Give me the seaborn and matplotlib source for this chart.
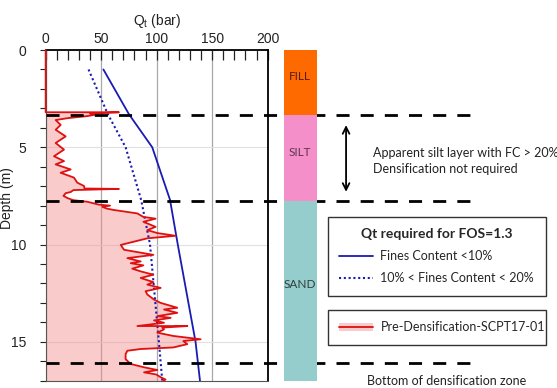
import matplotlib
matplotlib.use("Agg")
import matplotlib.pyplot as plt
from matplotlib.lines import Line2D
from matplotlib.patches import Patch
import seaborn as sns

# CPT trace (depth in m, Qt in bar)
cpt_depth = [0, 3.2, 3.2, 3.26, 3.32, 3.4, 3.5, 3.6, 3.85, 4.1, 4.44, 4.78, 5.12, 5.46, 5.71,
             5.88, 6.14, 6.31, 6.56, 6.82, 6.99, 7.12, 7.14, 7.2, 7.3, 7.36, 7.5, 7.62, 7.72,
             7.8, 7.95, 8.0, 8.06, 8.15, 8.22, 8.4, 8.58, 8.67, 8.83, 9.09, 9.26, 9.41, 9.55,
             9.68, 9.85, 10.02, 10.27, 10.53, 10.7, 10.87, 10.96, 11.07, 11.24, 11.38, 11.55,
             11.72, 11.93, 12.06, 12.23, 12.4, 12.57, 12.83, 13.0, 13.25, 13.34, 13.51, 13.68,
             13.77, 13.9, 14.02, 14.19, 14.19, 14.27, 14.36, 14.53, 14.7, 14.87, 14.96, 15.12,
             15.29, 15.37, 15.46, 15.63, 15.89, 16.14, 16.31, 16.45, 16.57, 16.68, 16.82, 16.94, 17.0]
cpt_qt = [0, 0, 66, 40, 45, 37, 20, 9, 13.5, 9, 18, 9, 16.5, 7.5, 16.5,
          9, 22.5, 13.5, 25.5, 28.5, 34.5, 35, 66, 25, 22.5, 18, 16, 20, 25,
          37.5, 48, 58, 51, 55, 61, 82.6, 88, 99, 88, 99, 91.6, 100.6, 117,
          91.6, 79.6, 67.6, 70.6, 97, 73.6, 85.6, 76.6, 88, 78, 85.6, 97,
          85.6, 97, 91.6, 103.6, 90, 91.6, 97.6, 103.6, 118.6, 106.6, 118.6, 100.6,
          112.6, 97.6, 106.6, 82.6, 127.6, 105, 106.6, 100.6, 115, 139.6, 124, 127.6,
          115, 85.6, 73.6, 72, 72, 76.6, 88.6, 100.6, 88.6, 99.6, 103.6, 108, 106]

# required Qt for FOS = 1.3
req_depth = [1, 3.3, 5, 7.7, 10, 12.5, 15, 17]
qt_fc_lt10 = [52, 75, 96, 112, 119, 127, 135, 139]
qt_fc_10_20 = [38.6, 56, 72, 86, 94, 98, 102, 105]

layer_names = ["FILL", "SILT", "SAND"]
layer_top = [0, 3.35, 7.75]
layer_bottom = [3.35, 7.75, 17]
layer_colors = ["#ff6a00", "#f58fc9", "#95cdcc"]
layer_text = ["#5a1e10", "#5e3552", "#2e3e3e"]

boundary_depths = [3.35, 7.75, 16.1]
x_ticks = [0, 50, 100, 150, 200]
y_ticks = [0, 5, 10, 15]

sns.set_style("white")
plt.rcParams['font.family'] = ['Liberation Sans', 'DejaVu Sans']
note_font = ['Lato', 'DejaVu Sans']

red = "#e01010"
blue = "#1a1ab4"
fill_col = "#f58c8c"

fig = plt.figure(figsize=(5.57, 3.88), dpi=100)
ax = fig.add_axes([0.082, 0.0188, 0.3986, 0.8523])

ax.fill_betweenx(cpt_depth, 0, cpt_qt, color=fill_col, alpha=0.45, lw=0, zorder=1)
sns.lineplot(x=cpt_qt, y=cpt_depth, orient='y', sort=False, estimator=None,
             color=red, lw=1.3, ax=ax, zorder=4)
ax.lines[-1].set_clip_on(False)
sns.lineplot(x=qt_fc_lt10, y=req_depth, orient='y', sort=False, estimator=None,
             color=blue, lw=1.3, ax=ax, zorder=3)
sns.lineplot(x=qt_fc_10_20, y=req_depth, orient='y', sort=False, estimator=None,
             color=blue, lw=1.5, ls=(0, (1, 1.3)), ax=ax, zorder=3)

ax.set_xlim(0, 200)
ax.set_ylim(17, 0)
ax.xaxis.tick_top()
ax.xaxis.set_label_position('top')
ax.set_xticks(x_ticks)
ax.set_xticks(range(0, 201, 10), minor=True)
ax.set_yticks(y_ticks)
ax.set_yticks(range(0, 18), minor=True)
ax.tick_params(axis='x', which='both', direction='in', length=7.5, width=0.9,
               colors='#222222', labelsize=10, pad=3, top=True, bottom=False)
ax.tick_params(axis='y', which='both', direction='out', length=4, width=0.8,
               colors='#222222', labelsize=10, pad=10, left=True)
ax.set_xlabel('$\\mathregular{Q_t}$ (bar)', fontsize=10, labelpad=5, color='#222222')
ax.set_ylabel('Depth (m)', fontsize=10, color='#222222')
ax.yaxis.set_label_coords(-0.143, 0.552)
ax.grid(True, axis='x', which='major', color='#a8a8a8', lw=0.9)
ax.grid(True, axis='y', which='major', color='#e0e0e0', lw=0.8)
for s in ['top', 'right']:
    ax.spines[s].set_color('black')
    ax.spines[s].set_linewidth(1.3)
for s in ['left', 'bottom']:
    ax.spines[s].set_color('#555555')
    ax.spines[s].set_linewidth(0.8)

# soil column
col = fig.add_axes([283.5 / 557, 0.0188, 33 / 557, 0.8523 + 2 / 388])
for name, top, bot, c, tc in zip(layer_names, layer_top, layer_bottom, layer_colors, layer_text):
    col.bar(0.5, bot - top, bottom=top, width=1, color=c, lw=0)
    col.text(0.5, (top + bot) / 2 - 0.3, name, ha='center', va='center',
             fontsize=8.5, color=tc, family=note_font)
col.set_xlim(0, 1)
col.set_ylim(17, -0.1)
col.axis('off')

# layer boundaries
for d in boundary_depths:
    ax.axhline(d, xmin=0, xmax=1.956, clip_on=False, color='black', lw=2,
               dashes=(4.7, 4), zorder=5)

tr = ax.get_yaxis_transform()
ax.annotate('', xy=(1.353, 3.86), xytext=(1.353, 7.29), xycoords=tr, textcoords=tr,
            arrowprops=dict(arrowstyle='<->', lw=1.3, color='black', mutation_scale=12,
                            shrinkA=0, shrinkB=0))
ax.text(1.473, 5.73, 'Apparent silt layer with FC > 20%\nDensification not required',
        transform=tr, ha='left', va='center', fontsize=9, linespacing=1.4,
        color='#222222', family=note_font)
ax.text(1.446, 17.02, 'Bottom of densification zone', transform=tr, ha='left',
        va='center', fontsize=9, color='#222222', family=note_font)

# legends
h1 = [Line2D([], [], color=blue, lw=1.3),
      Line2D([], [], color=blue, lw=1.5, ls=(0, (1, 1.3)))]
leg1 = fig.legend(h1, ['Fines Content <10%', '10% < Fines Content < 20%'],
                  loc='upper left', bbox_to_anchor=(328 / 557, 1 - 217 / 388, 218 / 557, 0),
                  mode='expand', borderaxespad=0, fancybox=False, framealpha=1,
                  edgecolor='#333333', title='Qt required for FOS=1.3',
                  title_fontproperties={'weight': 'bold', 'size': 10, 'family': note_font},
                  prop={'size': 9, 'family': note_font}, borderpad=0.9, labelspacing=0.8,
                  handlelength=2.7, handletextpad=0.6)
leg1.get_frame().set_linewidth(1.0)
h2 = [(Patch(facecolor=fill_col, alpha=0.45, lw=0), Line2D([], [], color=red, lw=1.3))]
leg2 = fig.legend(h2, ['Pre-Densification-SCPT17-01'],
                  loc='upper left', bbox_to_anchor=(328 / 557, 1 - 310 / 388, 218 / 557, 0),
                  mode='expand', borderaxespad=0, fancybox=False, framealpha=1,
                  edgecolor='#333333', prop={'size': 9, 'family': note_font},
                  borderpad=0.9, handlelength=2.7, handletextpad=0.6)
leg2.get_frame().set_linewidth(1.0)

fig.savefig('out.png', dpi=100)
